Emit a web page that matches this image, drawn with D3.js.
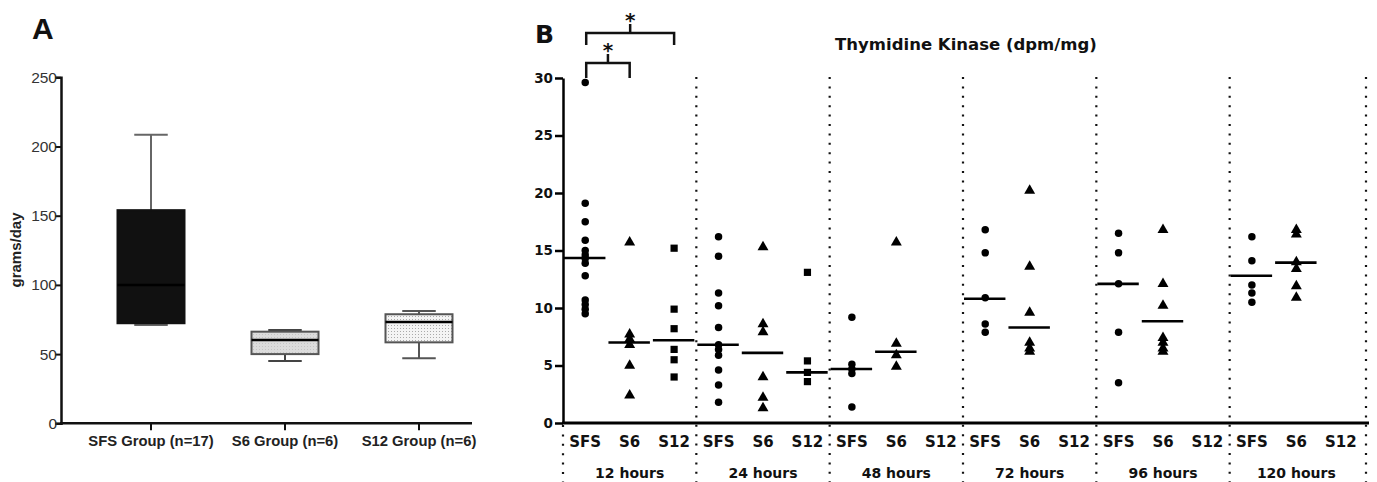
<!DOCTYPE html>
<html><head><meta charset="utf-8">
<script src="https://cdn.jsdelivr.net/npm/d3@7"></script>
<style>
html,body{margin:0;padding:0;background:#fff;}
svg{display:block;}
</style></head>
<body>
<svg id="chart" width="1377" height="482"></svg>
<script>
// ---------- Panel A data ----------
const groupsA = ["SFS Group (n=17)", "S6 Group (n=6)", "S12 Group (n=6)"];
const boxMin = [71, 45, 47];
const boxQ1 = [72.3, 50, 58.5];
const boxMedian = [100, 60.2, 73.2];
const boxQ3 = [154, 66.2, 78.8];
const boxMax = [208.5, 67.4, 81.1];
const ticksA = [0, 50, 100, 150, 200, 250];

// ---------- Panel B data ----------
const timepoints = ["12 hours", "24 hours", "48 hours", "72 hours", "96 hours", "120 hours"];
const categories = ["SFS", "S6", "S12"];
const ticksB = [0, 5, 10, 15, 20, 25, 30];
// values per timepoint, per category
const sfsValues = [
  [29.6, 19.1, 17.5, 15.9, 15.0, 14.6, 14.3, 13.9, 12.8, 10.7, 10.3, 9.9, 9.5],
  [16.2, 14.5, 11.3, 10.2, 8.3, 6.8, 6.4, 5.9, 4.6, 3.3, 1.8],
  [9.2, 5.1, 4.7, 4.3, 1.4],
  [16.8, 14.8, 10.9, 8.6, 7.9],
  [16.5, 14.8, 12.1, 7.9, 3.5],
  [16.2, 14.1, 12.0, 11.3, 10.5]
];
const s6Values = [
  [15.7, 7.7, 7.3, 6.8, 5.0, 2.4],
  [15.3, 8.6, 7.9, 4.0, 2.2, 1.3],
  [15.7, 6.9, 5.9, 4.9],
  [20.2, 13.6, 9.6, 7.0, 6.5, 6.2],
  [16.8, 12.1, 10.2, 7.4, 7.0, 6.5, 6.2],
  [16.8, 16.4, 14.0, 13.4, 11.9, 10.9]
];
const s12Values = [
  [15.2, 9.9, 8.2, 6.4, 5.5, 4.0],
  [13.1, 5.4, 4.4, 3.6],
  [], [], [], []
];
const sfsMedians = [14.35, 6.8, 4.7, 10.8, 12.1, 12.8];
const s6Medians = [7.0, 6.1, 6.2, 8.3, 8.85, 13.95];
const s12Medians = [7.2, 4.4, null, null, null, null];
const comparisons = [
  {time: "12 hours", from: "SFS", to: "S6", label: "*", level: 0},
  {time: "12 hours", from: "SFS", to: "S12", label: "*", level: 1}
];

const svg = d3.select("#chart");

// ================= PANEL A =================
const gA = svg.append("g");
const fontA = "Liberation Sans, Arial, sans-serif";
const yA = d3.scaleLinear().domain([0, 250]).range([423.3, 77.3]);
const xA = d3.scalePoint().domain(groupsA).range([151, 419]);
const boxW = 67;

const defs = svg.append("defs");
const pat = defs.append("pattern").attr("id", "dots").attr("width", 3).attr("height", 3)
  .attr("patternUnits", "userSpaceOnUse");
pat.append("rect").attr("width", 3).attr("height", 3).attr("fill", "#f4f4f4");
pat.append("rect").attr("x", 1).attr("y", 1).attr("width", 1).attr("height", 1).attr("fill", "#aaa");
const pat2 = defs.append("pattern").attr("id", "dots2").attr("width", 3).attr("height", 3)
  .attr("patternUnits", "userSpaceOnUse");
pat2.append("rect").attr("width", 3).attr("height", 3).attr("fill", "#dcdcdc");
pat2.append("rect").attr("x", 1).attr("y", 1).attr("width", 1).attr("height", 1).attr("fill", "#c4c4c4");

const fillsA = ["#111", "url(#dots2)", "url(#dots)"];
const strokesA = ["#111", "#555", "#555"];
const whiskerColA = ["#666", "#444", "#555"];

const boxes = groupsA.map((g, i) => ({g, i, min: boxMin[i], q1: boxQ1[i], med: boxMedian[i], q3: boxQ3[i], max: boxMax[i]}));
const bg = gA.selectAll("g.box").data(boxes).enter().append("g").attr("class", "box");
bg.append("line").attr("x1", d => xA(d.g)).attr("x2", d => xA(d.g))
  .attr("y1", d => yA(d.q3)).attr("y2", d => yA(d.max)).attr("stroke", d => whiskerColA[d.i]).attr("stroke-width", 2);
bg.append("line").attr("x1", d => xA(d.g)).attr("x2", d => xA(d.g))
  .attr("y1", d => yA(d.q1)).attr("y2", d => yA(d.min)).attr("stroke", d => whiskerColA[d.i]).attr("stroke-width", 2);
bg.append("line").attr("x1", d => xA(d.g) - boxW / 4).attr("x2", d => xA(d.g) + boxW / 4)
  .attr("y1", d => yA(d.max)).attr("y2", d => yA(d.max)).attr("stroke", d => whiskerColA[d.i]).attr("stroke-width", 2);
bg.append("line").attr("x1", d => xA(d.g) - boxW / 4).attr("x2", d => xA(d.g) + boxW / 4)
  .attr("y1", d => yA(d.min)).attr("y2", d => yA(d.min)).attr("stroke", d => whiskerColA[d.i]).attr("stroke-width", 2);
bg.append("rect").attr("x", d => xA(d.g) - boxW / 2).attr("width", boxW)
  .attr("y", d => yA(d.q3)).attr("height", d => yA(d.q1) - yA(d.q3))
  .attr("fill", d => fillsA[d.i]).attr("stroke", d => strokesA[d.i]).attr("stroke-width", 2);
bg.append("line").attr("x1", d => xA(d.g) - boxW / 2).attr("x2", d => xA(d.g) + boxW / 2)
  .attr("y1", d => yA(d.med)).attr("y2", d => yA(d.med)).attr("stroke", "#000").attr("stroke-width", 2.5);

// axes A
const axYA = gA.append("g").attr("transform", "translate(61,0)")
  .call(d3.axisLeft(yA).tickValues(ticksA).tickSize(6).tickFormat(d3.format("d")));
axYA.select(".domain").attr("stroke", "#111").attr("stroke-width", 2.5);
axYA.selectAll(".tick line").attr("stroke", "#111").attr("stroke-width", 2);
axYA.selectAll(".tick text").attr("font-family", fontA)
  .attr("font-size", 15.5).attr("fill", "#333").attr("x", -4);

gA.append("line").attr("x1", 60).attr("x2", 472).attr("y1", yA(0)).attr("y2", yA(0))
  .attr("stroke", "#111").attr("stroke-width", 2.5);
gA.selectAll("line.xt").data(groupsA).enter().append("line").attr("class", "xt")
  .attr("x1", d => xA(d)).attr("x2", d => xA(d)).attr("y1", yA(0)).attr("y2", yA(0) + 7)
  .attr("stroke", "#111").attr("stroke-width", 2);
gA.selectAll("text.xl").data(groupsA).enter().append("text").attr("class", "xl")
  .attr("x", d => xA(d)).attr("y", 446).attr("text-anchor", "middle")
  .attr("font-family", fontA).attr("font-weight", "bold")
  .attr("font-size", 14.8).attr("fill", "#222").text(d => d);

gA.append("text").attr("transform", "translate(21,250) rotate(-90)").attr("text-anchor", "middle")
  .attr("font-family", fontA).attr("font-weight", "bold")
  .attr("font-size", 15).attr("fill", "#222").text("grams/day");

gA.append("text").attr("x", 32).attr("y", 39).attr("font-family", fontA)
  .attr("font-weight", "bold").attr("font-size", 30).attr("fill", "#111").text("A");

// ================= PANEL B =================
const gB = svg.append("g");
const fontB = "DejaVu Sans, sans-serif";
const yB = d3.scaleLinear().domain([0, 30]).range([423, 78]);
const keys = [];
timepoints.forEach(t => categories.forEach(c => keys.push(t + "|" + c)));
const xB = d3.scaleBand().domain(keys).range([563, 1363]).paddingInner(0).paddingOuter(0);
const bw = xB.bandwidth();
const cx = k => xB(k) + bw / 2;

// dotted separators
const sepX = timepoints.map(t => xB(t + "|SFS")).concat([xB.range()[1] + 3]);
gB.selectAll("line.sep").data(sepX).enter().append("line").attr("class", "sep")
  .attr("x1", d => d).attr("x2", d => d)
  .attr("y1", (d, i) => i === 0 ? 425 : 77).attr("y2", 482)
  .attr("stroke", "#111").attr("stroke-width", 2.2).attr("stroke-dasharray", "2,7.4");

// y axis
const axYB = gB.append("g").attr("transform", "translate(563,0)")
  .call(d3.axisLeft(yB).tickValues(ticksB).tickSize(8).tickSizeOuter(0));
axYB.select(".domain").attr("stroke", "#000").attr("stroke-width", 2.5);
axYB.selectAll(".tick line").attr("stroke", "#000").attr("stroke-width", 2.5);
axYB.selectAll(".tick text").attr("font-family", fontB).attr("font-weight", "bold")
  .attr("font-size", 13.5).attr("fill", "#111").attr("x", -10);

// x axis line
gB.append("line").attr("x1", 562).attr("x2", 1369).attr("y1", yB(0)).attr("y2", yB(0))
  .attr("stroke", "#000").attr("stroke-width", 2.8);

// category labels
gB.selectAll("text.cat").data(keys).enter().append("text").attr("class", "cat")
  .attr("x", d => cx(d)).attr("y", 447).attr("text-anchor", "middle")
  .attr("font-family", fontB).attr("font-weight", "bold").attr("font-size", 15).attr("fill", "#111")
  .text(d => d.split("|")[1]);
gB.selectAll("text.tp").data(timepoints).enter().append("text").attr("class", "tp")
  .attr("x", d => cx(d + "|S6")).attr("y", 478).attr("text-anchor", "middle")
  .attr("font-family", fontB).attr("font-weight", "bold").attr("font-size", 14).attr("fill", "#111")
  .text(d => d);

// points
const seriesVals = {SFS: sfsValues, S6: s6Values, S12: s12Values};
const seriesMed = {SFS: sfsMedians, S6: s6Medians, S12: s12Medians};
const symType = {SFS: d3.symbolCircle, S6: d3.symbolTriangle, S12: d3.symbolSquare};
const symSize = {SFS: 44, S6: 52, S12: 52};
const pts = [];
timepoints.forEach((t, ti) => categories.forEach(c => {
  seriesVals[c][ti].forEach(v => pts.push({k: t + "|" + c, c, v}));
}));
gB.selectAll("path.pt").data(pts).enter().append("path").attr("class", "pt")
  .attr("d", d => d3.symbol().type(symType[d.c]).size(symSize[d.c])())
  .attr("transform", d => `translate(${cx(d.k)},${yB(d.v)})`)
  .attr("fill", "#000");

// median lines
const meds = [];
timepoints.forEach((t, ti) => categories.forEach(c => {
  const m = seriesMed[c][ti];
  if (m != null) meds.push({k: t + "|" + c, m});
}));
gB.selectAll("line.med").data(meds).enter().append("line").attr("class", "med")
  .attr("x1", d => xB(d.k) + 1).attr("x2", d => xB(d.k) + bw - 2)
  .attr("y1", d => yB(d.m)).attr("y2", d => yB(d.m))
  .attr("stroke", "#000").attr("stroke-width", 2.6);

// significance brackets
const levelY = [63, 33];
const legLen = [15, 12];
comparisons.forEach(cmp => {
  const x1 = cx(cmp.time + "|" + cmp.from) + 1;
  const x2 = cx(cmp.time + "|" + cmp.to);
  const y = levelY[cmp.level];
  const xm = (x1 + x2) / 2;
  gB.append("path")
    .attr("d", `M${x1},${y + legLen[cmp.level]}V${y}H${x2}V${y + legLen[cmp.level]}M${xm},${y}V${y - 9}`)
    .attr("fill", "none").attr("stroke", "#111").attr("stroke-width", 2.5);
  gB.append("text").attr("x", xm).attr("y", y - 6).attr("text-anchor", "middle")
    .attr("font-family", fontB).attr("font-weight", "bold").attr("font-size", 20).attr("fill", "#111")
    .text(cmp.label);
});

// title and label
gB.append("text").attr("x", 966).attr("y", 50).attr("text-anchor", "middle")
  .attr("font-family", fontB).attr("font-weight", "bold").attr("font-size", 16.5).attr("fill", "#111")
  .text("Thymidine Kinase (dpm/mg)");
gB.append("text").attr("x", 535).attr("y", 43).attr("font-family", fontB)
  .attr("font-weight", "bold").attr("font-size", 25).attr("fill", "#111").text("B");
</script>
</body></html>
